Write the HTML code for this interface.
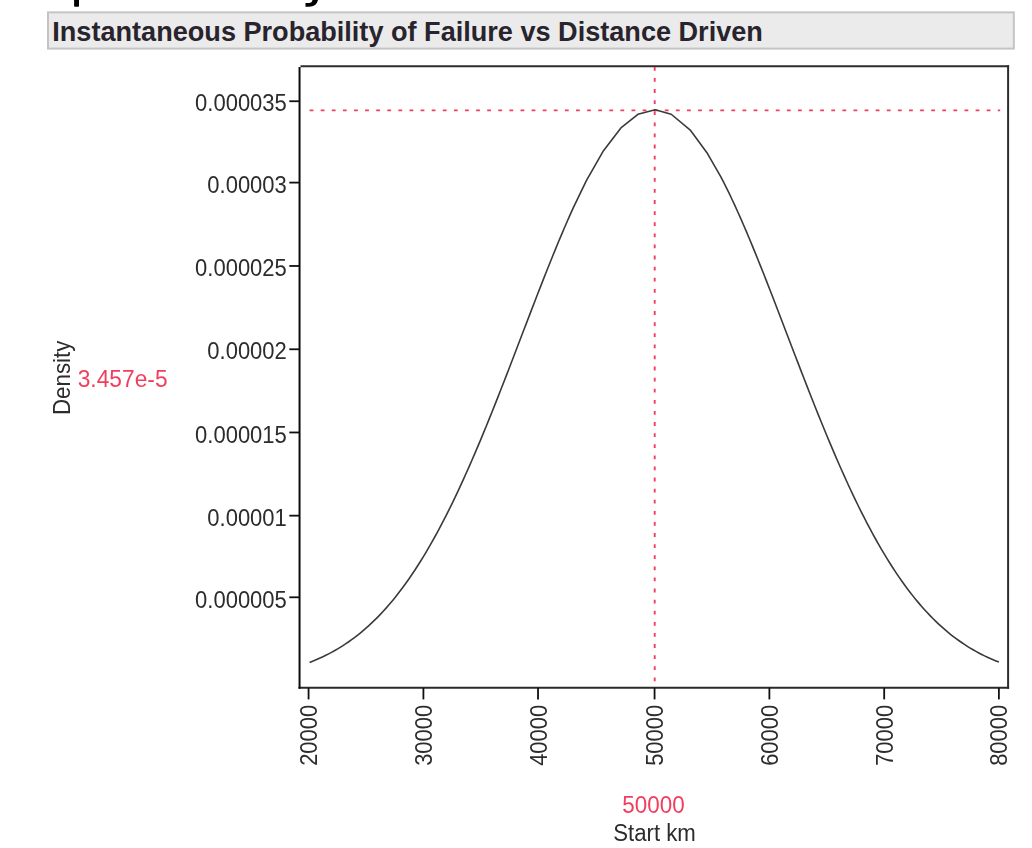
<!DOCTYPE html>
<html><head><meta charset="utf-8"><style>
html,body{margin:0;padding:0;background:#fff;width:1032px;height:848px;overflow:hidden}
svg{display:block;position:absolute;left:0;top:0;filter:blur(0.4px)}
.tt{font-family:"Liberation Sans",sans-serif;font-weight:bold;font-size:27.1px;fill:#28232c}
.t{font-family:"Liberation Sans",sans-serif;font-size:22px;fill:#2c2c2c}
</style></head><body>
<svg width="1032" height="848" viewBox="0 0 1032 848">
<rect x="48" y="12.36" width="965.84" height="36.24" fill="#ebebeb" stroke="#c4c4c4" stroke-width="2"/>
<text transform="translate(52.3,41) scale(1,1.03)" class="tt">Instantaneous Probability of Failure vs Distance Driven</text>
<line x1="300.5" y1="66.15" x2="1009.1" y2="66.15" stroke="#2c2c2c" stroke-width="2"/>
<line x1="1008.1" y1="65.15" x2="1008.1" y2="688.8" stroke="#2c2c2c" stroke-width="2"/>
<line x1="298.5" y1="687.8" x2="1009.1" y2="687.8" stroke="#2a2a2a" stroke-width="2"/>
<line x1="299.55" y1="67.0" x2="299.55" y2="688.8" stroke="#0c0c0c" stroke-width="2"/>
<line x1="289.3" y1="101.24" x2="299.5" y2="101.24" stroke="#101010" stroke-width="1.8"/>
<text transform="translate(286.8,111.44) scale(1,1.06)" text-anchor="end" class="t">0.000035</text>
<line x1="289.3" y1="182.60" x2="299.5" y2="182.60" stroke="#101010" stroke-width="1.8"/>
<text transform="translate(286.8,192.80) scale(1,1.06)" text-anchor="end" class="t">0.00003</text>
<line x1="289.3" y1="265.97" x2="299.5" y2="265.97" stroke="#101010" stroke-width="1.8"/>
<text transform="translate(286.8,276.17) scale(1,1.06)" text-anchor="end" class="t">0.000025</text>
<line x1="289.3" y1="349.27" x2="299.5" y2="349.27" stroke="#101010" stroke-width="1.8"/>
<text transform="translate(286.8,359.47) scale(1,1.06)" text-anchor="end" class="t">0.00002</text>
<line x1="289.3" y1="432.47" x2="299.5" y2="432.47" stroke="#101010" stroke-width="1.8"/>
<text transform="translate(286.8,442.67) scale(1,1.06)" text-anchor="end" class="t">0.000015</text>
<line x1="289.3" y1="515.66" x2="299.5" y2="515.66" stroke="#101010" stroke-width="1.8"/>
<text transform="translate(286.8,525.86) scale(1,1.06)" text-anchor="end" class="t">0.00001</text>
<line x1="289.3" y1="597.30" x2="299.5" y2="597.30" stroke="#101010" stroke-width="1.8"/>
<text transform="translate(286.8,607.50) scale(1,1.06)" text-anchor="end" class="t">0.000005</text>
<line x1="308.57" y1="687.8" x2="308.57" y2="699.4" stroke="#101010" stroke-width="1.8"/>
<text transform="translate(317.17,704.7) rotate(-90) scale(1,1.06)" text-anchor="end" class="t">20000</text>
<line x1="423.41" y1="687.8" x2="423.41" y2="699.4" stroke="#101010" stroke-width="1.8"/>
<text transform="translate(432.01,704.7) rotate(-90) scale(1,1.06)" text-anchor="end" class="t">30000</text>
<line x1="538.02" y1="687.8" x2="538.02" y2="699.4" stroke="#101010" stroke-width="1.8"/>
<text transform="translate(546.62,704.7) rotate(-90) scale(1,1.06)" text-anchor="end" class="t">40000</text>
<line x1="654.57" y1="687.8" x2="654.57" y2="699.4" stroke="#101010" stroke-width="1.8"/>
<text transform="translate(663.17,704.7) rotate(-90) scale(1,1.06)" text-anchor="end" class="t">50000</text>
<line x1="769.38" y1="687.8" x2="769.38" y2="699.4" stroke="#101010" stroke-width="1.8"/>
<text transform="translate(777.98,704.7) rotate(-90) scale(1,1.06)" text-anchor="end" class="t">60000</text>
<line x1="884.19" y1="687.8" x2="884.19" y2="699.4" stroke="#101010" stroke-width="1.8"/>
<text transform="translate(892.79,704.7) rotate(-90) scale(1,1.06)" text-anchor="end" class="t">70000</text>
<line x1="998.88" y1="687.8" x2="998.88" y2="699.4" stroke="#101010" stroke-width="1.8"/>
<text transform="translate(1007.48,704.7) rotate(-90) scale(1,1.06)" text-anchor="end" class="t">80000</text>
<line x1="302.5" y1="110.4" x2="1000.2" y2="110.4" stroke="#f23e5e" stroke-width="1.9" stroke-dasharray="3.8 7.3" stroke-dashoffset="4.0"/>
<line x1="654.7" y1="67" x2="654.7" y2="686.8" stroke="#f23e5e" stroke-width="1.9" stroke-dasharray="3.8 7.3" stroke-dashoffset="0.1"/>
<polyline points="309.60,662.38 311.44,661.66 314.31,660.51 317.18,659.30 320.05,658.03 322.93,656.70 325.80,655.31 328.67,653.86 331.54,652.34 334.41,650.75 337.28,649.10 340.15,647.37 343.02,645.56 345.89,643.68 348.76,641.72 351.63,639.68 354.51,637.55 357.38,635.34 360.25,633.05 363.12,630.66 365.99,628.18 368.86,625.61 371.73,622.94 374.60,620.17 377.47,617.31 380.35,614.34 383.22,611.27 386.09,608.09 388.96,604.81 391.83,601.42 394.70,597.92 397.57,594.30 400.44,590.58 403.31,586.73 406.18,582.78 409.06,578.71 411.93,574.52 414.80,570.21 417.67,565.78 420.54,561.24 423.41,556.57 426.28,551.80 429.14,546.90 432.01,541.89 434.87,536.76 437.74,531.51 440.60,526.14 443.47,520.66 446.33,515.06 449.20,509.35 452.06,503.53 454.93,497.59 457.79,491.55 460.66,485.40 463.52,479.14 466.39,472.78 469.25,466.33 472.12,459.78 474.98,453.13 477.85,446.40 480.72,439.58 483.58,432.68 486.45,425.71 489.31,418.66 492.18,411.54 495.04,404.36 497.91,397.12 500.77,389.83 503.64,382.50 506.50,375.12 509.37,367.71 512.23,360.26 515.10,352.80 517.96,345.32 520.83,337.82 523.69,330.33 526.56,322.84 529.42,315.36 532.29,307.90 535.15,300.47 538.02,293.07 540.93,285.59 543.85,278.15 546.76,270.78 549.67,263.48 552.59,256.25 555.50,249.10 558.42,242.04 561.33,235.09 564.24,228.25 567.16,221.52 570.07,214.92 572.99,208.45 586.50,180.43 603.50,150.71 620.90,127.97 637.90,114.32 655.20,109.81 671.20,114.26 690.60,130.48 707.50,153.53 720.59,176.38 723.46,181.91 726.33,187.61 729.20,193.47 732.07,199.49 734.94,205.66 737.81,211.97 740.68,218.41 743.55,224.98 746.42,231.67 749.29,238.46 752.16,245.36 755.03,252.35 757.90,259.43 760.77,266.59 763.64,273.81 766.51,281.10 769.38,288.44 772.25,295.83 775.12,303.25 777.99,310.71 780.86,318.19 783.73,325.69 786.60,333.19 789.47,340.70 792.34,348.20 795.21,355.69 798.08,363.16 800.95,370.61 803.82,378.02 806.69,385.40 809.56,392.73 812.43,400.01 815.30,407.24 818.17,414.41 821.04,421.51 823.91,428.54 826.78,435.50 829.66,442.38 832.53,449.17 835.40,455.88 838.27,462.50 841.14,469.02 844.01,475.45 846.88,481.77 849.75,488.00 852.62,494.11 855.49,500.12 858.36,506.02 861.23,511.81 864.10,517.48 866.97,523.04 869.84,528.48 872.71,533.81 875.58,539.01 878.45,544.10 881.32,549.07 884.19,553.92 887.06,558.65 889.92,563.25 892.79,567.74 895.66,572.11 898.53,576.36 901.39,580.49 904.26,584.51 907.13,588.41 910.00,592.20 912.86,595.87 915.73,599.43 918.60,602.88 921.46,606.22 924.33,609.45 927.20,612.58 930.07,615.61 932.93,618.53 935.80,621.35 938.67,624.07 941.54,626.69 944.40,629.22 947.27,631.66 950.14,634.01 953.00,636.26 955.87,638.44 958.74,640.52 961.61,642.53 964.47,644.45 967.34,646.30 970.21,648.07 973.07,649.77 975.94,651.40 978.81,652.96 981.68,654.45 984.54,655.87 987.41,657.24 990.28,658.54 993.15,659.78 996.01,660.97 998.88,662.10" fill="none" stroke="#3a3a3a" stroke-width="1.6" stroke-linejoin="round"/>
<text transform="translate(70.0,415.0) rotate(-90) scale(1.015,1.06)" class="t">Density</text>
<text transform="translate(77.7,387.4) scale(1.035,1.06)" class="t" style="fill:#f23e5e">3.457e-5</text>
<text transform="translate(653.5,813.0) scale(1.02,1.06)" text-anchor="middle" class="t" style="fill:#f23e5e">50000</text>
<text transform="translate(654.5,841) scale(1.01,1.06)" text-anchor="middle" class="t">Start km</text>
<rect x="74.1" y="-2" width="4.9" height="8.8" rx="0.8" fill="#000"/>
<path d="M305.5,3.1 L309,3.1 Q312,3 312.5,0 L318,0 Q316.5,6.8 309,6.8 L305.5,6.8 Z" fill="#000"/>
</svg>
</body></html>
